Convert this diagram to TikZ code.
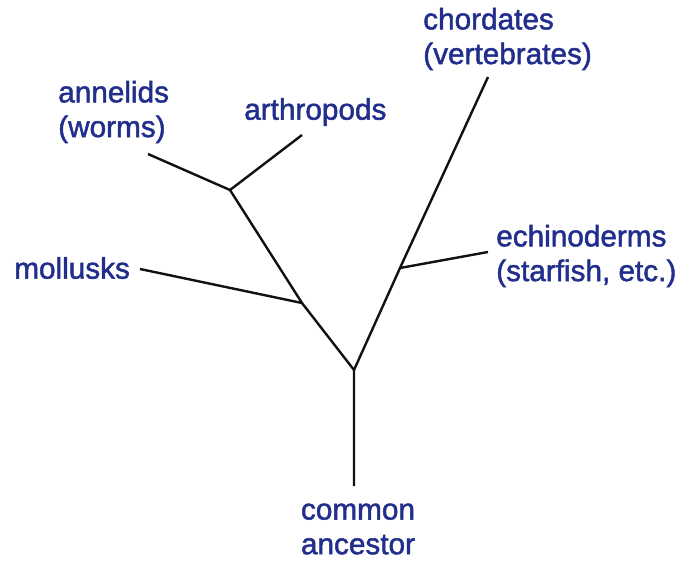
\documentclass[tikz,border=0pt]{standalone}
\usepackage{fontspec}
\setmainfont{Liberation Sans}
\newfontfamily\taxonfont[FakeBold=1.6]{Liberation Sans}
\usetikzlibrary{positioning}
\definecolor{labelblue}{HTML}{222E8C}
\definecolor{branch}{HTML}{111111}

\tikzset{
  taxon/.style={
    text=labelblue,
    inner sep=0pt,
    font=\taxonfont\fontsize{22.3}{26}\selectfont
  },
  limb/.style={draw=branch, line width=1.8pt}
}

\begin{document}
\begin{tikzpicture}[x=0.75pt,y=-0.75pt]
        \useasboundingbox (0,0) rectangle (685,561);
        % branch points
        \coordinate (root) at (354,370);
        \coordinate (mollJ) at (302,303);
        \coordinate (arthJ) at (230,190);
        \coordinate (echiJ) at (400,268);
        % free ends
        \coordinate (rootEnd) at (354,486);
        \coordinate (annEnd) at (148,154);
        \coordinate (arthEnd) at (302,135);
        \coordinate (mollEnd) at (140,269);
        \coordinate (chordEnd) at (488,77);
        \coordinate (echiEnd) at (488,252);

        % labels
        \node[taxon, anchor=west, align=left] (annelids) at (58,112) {annelids\\(worms)};
        \node[taxon, anchor=west] (arthropods) at (244,112) {arthropods};
        \node[taxon, anchor=west] (mollusks) at (14,268) {mollusks};
        \node[taxon, anchor=west, align=left] (chordates) at (423,39) {chordates\\(vertebrates)};
        \node[taxon, anchor=west, align=left] (echinoderms) at (496,256) {echinoderms\\(starfish, etc.)};
        \node[taxon, align=center] (ancestor) at (358,529) {common\\ancestor};

        % tree
        \draw[limb] (rootEnd) -- (root) -- (mollJ) -- (arthJ) -- (annEnd);
        \draw[limb] (arthJ) -- (arthEnd);
        \draw[limb] (mollJ) -- (mollEnd);
        \draw[limb] (root) -- (echiJ) -- (chordEnd);
        \draw[limb] (echiJ) -- (echiEnd);
      \end{tikzpicture}
\end{document}
